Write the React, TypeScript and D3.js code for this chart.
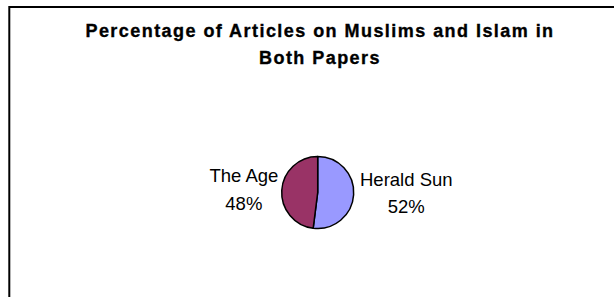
import { useEffect, useRef } from 'react'
import * as d3 from 'd3'

const categories = ['Herald Sun', 'The Age']
const shares = [52, 48]
const sliceColors = ['#9999FF', '#993366']
const titleLines = ['Percentage of Articles on Muslims and Islam in', 'Both Papers']

export default function App() {
  const svgRef = useRef<SVGSVGElement>(null)
  const width = 614
  const height = 297

  useEffect(() => {
    if (!svgRef.current) return
    const svg = d3.select(svgRef.current)
    svg.selectAll('*').remove()

    const font = '"Liberation Sans", Arial, sans-serif'

    // outer chart frame (cropped on right/bottom)
    svg.append('rect')
      .attr('x', 9.3)
      .attr('y', 7)
      .attr('width', 640)
      .attr('height', 320)
      .attr('fill', '#fff')
      .attr('stroke', '#000')
      .attr('stroke-width', 2)

    // title
    const title = svg.append('text')
      .attr('text-anchor', 'middle')
      .attr('font-family', font)
      .attr('font-weight', 'bold')
      .attr('font-size', 18)
      .attr('letter-spacing', 1.45)
      .attr('fill', '#000')
      .attr('stroke', '#000')
      .attr('stroke-width', 0.35)
    titleLines.forEach((t, i) => {
      title.append('tspan')
        .attr('x', 320)
        .attr('y', 36.5 + i * 27)
        .text(t)
    })

    // pie
    const cx = 317.7
    const cy = 192.5
    const r = 36

    const data = categories.map((c, i) => ({ name: c, value: shares[i], color: sliceColors[i] }))
    const pie = d3.pie<typeof data[0]>().sort(null).value(d => d.value)
    const arc = d3.arc<d3.PieArcDatum<typeof data[0]>>().innerRadius(0).outerRadius(r)
    const arcs = pie(data)
    const total = d3.sum(shares)

    const g = svg.append('g').attr('transform', `translate(${cx},${cy})`)
    g.selectAll('path')
      .data(arcs)
      .join('path')
      .attr('d', arc)
      .attr('fill', d => d.data.color)
      .attr('stroke', '#000')
      .attr('stroke-width', 1.5)
      .attr('stroke-linejoin', 'round')

    // labels outside each slice
    const fontSize = 18.5
    const lineGap = 27.5
    arcs.forEach(a => {
      const mid = (a.startAngle + a.endAngle) / 2
      const side = Math.sin(mid) >= 0 ? 1 : -1
      const label = g.append('text')
        .attr('text-anchor', 'middle')
        .attr('font-family', font)
        .attr('font-size', fontSize)
        .attr('fill', '#000')
      const lines = [a.data.name, `${Math.round((a.data.value / total) * 100)}%`]
      const spans = lines.map((t, i) =>
        label.append('tspan')
          .attr('y', 5.45 - lineGap / 2 + i * lineGap - Math.cos(mid) * 28)
          .text(t)
      )
      const w = d3.max(spans, s => (s.node() as SVGTSpanElement).getComputedTextLength()) || 0
      const gap = side > 0 ? 6.3 : 3.4
      const x = side * (r + gap + w / 2)
      spans.forEach(s => s.attr('x', x))
    })
  }, [])

  return (
    <svg
      ref={svgRef}
      width={width}
      height={height}
      style={{ position: 'absolute', left: 0, top: 0, background: '#fff' }}
    />
  )
}
